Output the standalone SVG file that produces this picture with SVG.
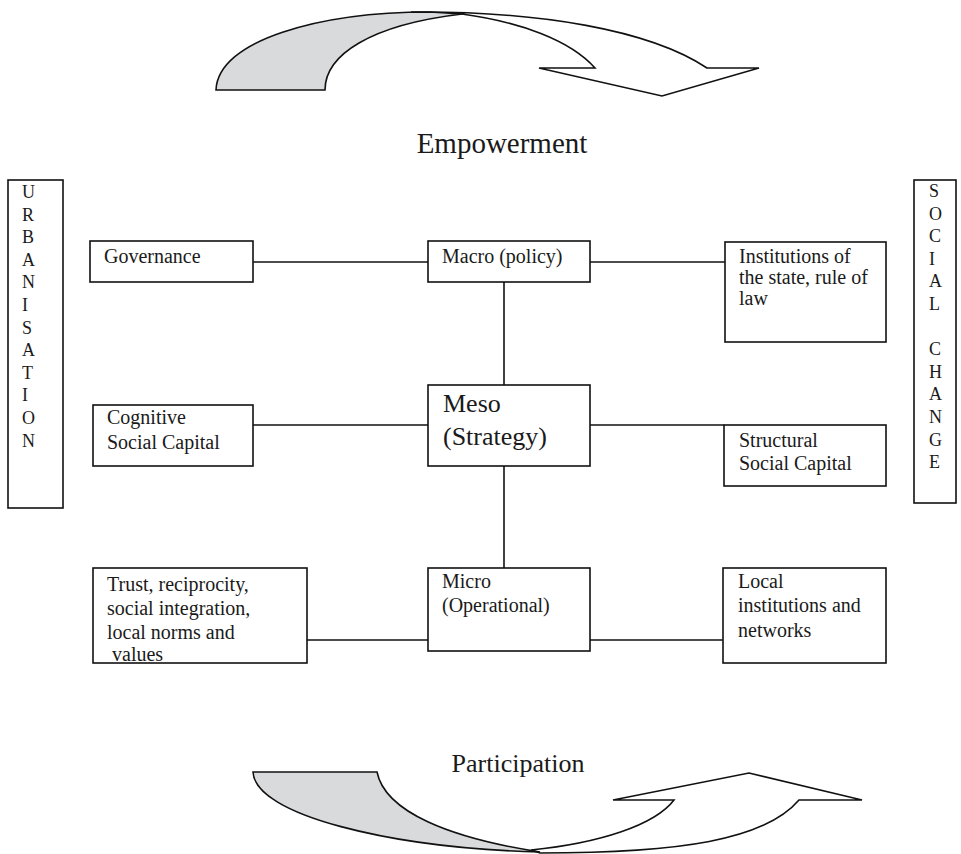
<svg xmlns="http://www.w3.org/2000/svg" width="961" height="854" viewBox="0 0 961 854">
<style>
text{font-family:"Liberation Serif","Times New Roman",serif;fill:#1a1a1a}
.box{fill:#fff;stroke:#111;stroke-width:1.6}
.ln{stroke:#111;stroke-width:1.6;fill:none}
.arw{stroke:#111;stroke-width:1.6;stroke-linejoin:miter}
.t{font-size:20px}
.big{font-size:26px}
.v{font-size:18px}
</style>
<rect width="961" height="854" fill="#fff"/>
<g id="empowerment-arrow">
<path class="arw" fill="#fff" d="M411,12 C540,11 650,30 707,68 L759,68 L662,96 L539,68 L595,68 C570,40 520,22 462,14 Z"/>
<path class="arw" fill="#d9dadc" d="M216,90 C218,40 320,12 430,12 L462,14 C370,25 325,55 325,90 Z"/>
</g>
<text id="empowerment-label" x="502" y="153" text-anchor="middle" style="font-size:29px">Empowerment</text>
<g id="participation-arrow">
<path class="arw" fill="#fff" d="M531,850 C600,843 655,825 674,800 L613,800 L749,773 L862,800 L799,800 C765,840 680,853 540,853 Z"/>
<path class="arw" fill="#d9dadc" d="M253,772 L377,772 C385,812 450,838 540,852 C390,848 255,815 253,772 Z"/>
</g>
<text id="participation-label" class="big" x="518" y="772" text-anchor="middle">Participation</text>
<g id="connectors">
<line class="ln" x1="253" y1="262" x2="428" y2="262"/>
<line class="ln" x1="590" y1="262" x2="725" y2="262"/>
<line class="ln" x1="504" y1="282" x2="504" y2="385"/>
<line class="ln" x1="253" y1="425" x2="428" y2="425"/>
<line class="ln" x1="590" y1="425" x2="724" y2="425"/>
<line class="ln" x1="504" y1="466" x2="504" y2="568"/>
<line class="ln" x1="307" y1="640" x2="428" y2="640"/>
<line class="ln" x1="590" y1="640" x2="723" y2="640"/>
</g>
<g id="urbanisation">
<rect class="box" x="8" y="180" width="55" height="328"/>
<text class="v" x="22" y="198">U</text>
<text class="v" x="22" y="220.6">R</text>
<text class="v" x="22" y="243.2">B</text>
<text class="v" x="22" y="265.8">A</text>
<text class="v" x="22" y="288.4">N</text>
<text class="v" x="22" y="311">I</text>
<text class="v" x="22" y="333.6">S</text>
<text class="v" x="22" y="356.2">A</text>
<text class="v" x="22" y="378.8">T</text>
<text class="v" x="22" y="401.4">I</text>
<text class="v" x="22" y="424">O</text>
<text class="v" x="22" y="446.6">N</text>
</g>
<g id="social-change">
<rect class="box" x="914" y="180" width="42" height="323"/>
<text class="v" x="929" y="197">S</text>
<text class="v" x="929" y="219.6">O</text>
<text class="v" x="929" y="242.2">C</text>
<text class="v" x="929" y="264.8">I</text>
<text class="v" x="929" y="287.4">A</text>
<text class="v" x="929" y="310">L</text>
<text class="v" x="929" y="355.2">C</text>
<text class="v" x="929" y="377.8">H</text>
<text class="v" x="929" y="400.4">A</text>
<text class="v" x="929" y="423">N</text>
<text class="v" x="929" y="445.6">G</text>
<text class="v" x="929" y="468.2">E</text>
</g>
<g id="governance">
<rect class="box" x="90" y="241" width="163" height="41"/>
<text class="t" x="104" y="263">Governance</text>
</g>
<g id="macro">
<rect class="box" x="428" y="241" width="162" height="41"/>
<text class="t" x="442" y="263">Macro (policy)</text>
</g>
<g id="institutions">
<rect class="box" x="725" y="242" width="161" height="100"/>
<text class="t" x="739" y="263">Institutions of</text>
<text class="t" x="739" y="284">the state, rule of</text>
<text class="t" x="739" y="305">law</text>
</g>
<g id="cognitive">
<rect class="box" x="93" y="405" width="160" height="61"/>
<text class="t" x="107" y="424">Cognitive</text>
<text class="t" x="107" y="449">Social Capital</text>
</g>
<g id="meso">
<rect class="box" x="428" y="385" width="162" height="81"/>
<text class="big" x="443" y="412">Meso</text>
<text class="big" x="443" y="445">(Strategy)</text>
</g>
<g id="structural">
<rect class="box" x="724" y="425" width="162" height="61"/>
<text class="t" x="739" y="447">Structural</text>
<text class="t" x="739" y="470">Social Capital</text>
</g>
<g id="trust">
<rect class="box" x="93" y="568" width="214" height="95"/>
<text class="t" x="107" y="591">Trust, reciprocity,</text>
<text class="t" x="107" y="615">social integration,</text>
<text class="t" x="107" y="639">local norms and</text>
<text class="t" x="112" y="661">values</text>
</g>
<g id="micro">
<rect class="box" x="428" y="568" width="162" height="83"/>
<text class="t" x="442" y="588">Micro</text>
<text class="t" x="442" y="612">(Operational)</text>
</g>
<g id="local">
<rect class="box" x="723" y="568" width="163" height="95"/>
<text class="t" x="738" y="588">Local</text>
<text class="t" x="738" y="612">institutions and</text>
<text class="t" x="738" y="637">networks</text>
</g>
</svg>
